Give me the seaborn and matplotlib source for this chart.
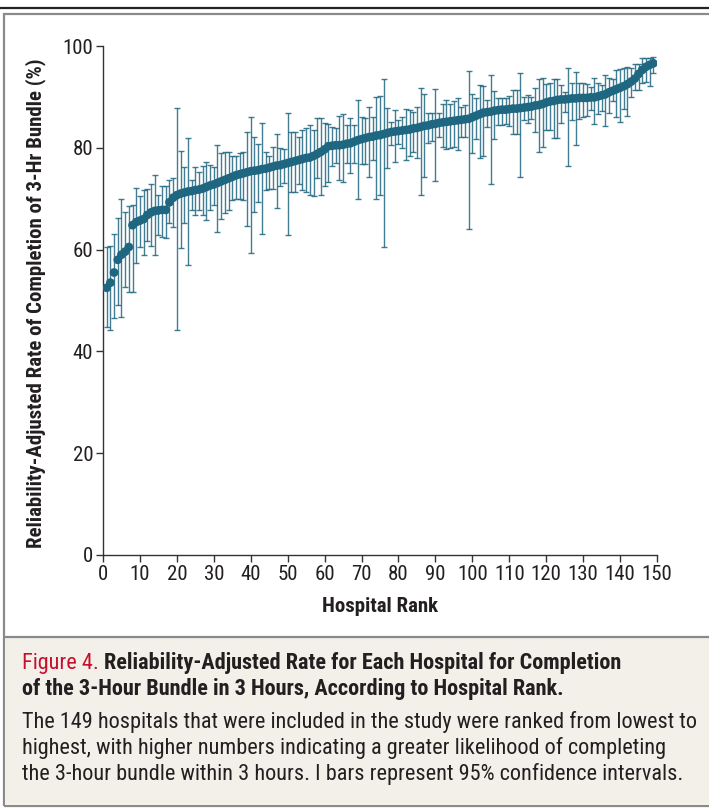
import matplotlib
matplotlib.use("Agg")
import matplotlib.pyplot as plt
import matplotlib.patches as mpatches
import matplotlib.lines as mlines
import numpy as np
import pandas as pd
import seaborn as sns
from matplotlib import font_manager

# ── Data ──────────────────────────────────────────────────────────────────────
rate = [
    52.5, 53.5, 55.5, 58.0, 59.0, 59.6, 60.5, 64.8, 65.4, 65.7,
    66.0, 66.8, 67.3, 67.6, 67.7, 67.8, 67.8, 69.3, 70.2, 70.7,
    71.0, 71.2, 71.4, 71.5, 71.7, 71.8, 72.0, 72.3, 72.6, 72.8,
    73.1, 73.4, 73.7, 74.0, 74.3, 74.6, 74.8, 75.0, 75.2, 75.4,
    75.5, 75.6, 75.8, 75.9, 76.1, 76.3, 76.5, 76.6, 76.8, 77.0,
    77.2, 77.4, 77.6, 77.8, 78.0, 78.1, 78.4, 78.8, 79.2, 79.7,
    80.3, 80.4, 80.5, 80.5, 80.6, 80.8, 80.9, 81.2, 81.5, 81.7,
    81.9, 82.1, 82.2, 82.4, 82.5, 82.7, 82.9, 83.1, 83.2, 83.3,
    83.4, 83.5, 83.6, 83.8, 83.9, 84.1, 84.3, 84.4, 84.6, 84.7,
    84.9, 85.0, 85.1, 85.2, 85.3, 85.4, 85.5, 85.6, 85.7, 86.0,
    86.3, 86.6, 86.9, 87.0, 87.1, 87.3, 87.4, 87.5, 87.5, 87.6,
    87.7, 87.7, 87.8, 87.9, 88.0, 88.1, 88.3, 88.4, 88.6, 88.9,
    89.1, 89.2, 89.4, 89.5, 89.5, 89.6, 89.7, 89.7, 89.8, 89.8,
    89.8, 89.9, 89.9, 90.1, 90.3, 90.5, 90.9, 91.2, 91.5, 91.8,
    92.1, 92.5, 93.0, 93.6, 94.5, 95.3, 95.9, 96.3, 96.6,
]
ci_low = [
    44.8, 44.3, 46.5, 49.1, 46.8, 52.7, 51.7, 51.7, 57.3, 60.6,
    58.9, 61.6, 60.7, 58.9, 62.8, 62.5, 62.3, 65.2, 64.5, 44.2,
    60.3, 65.2, 57.0, 67.8, 66.8, 67.8, 66.8, 65.8, 67.8, 68.8,
    63.5, 66.1, 67.1, 67.8, 69.7, 70.0, 70.0, 69.7, 64.6, 59.3,
    67.3, 69.4, 63.1, 71.7, 72.0, 72.0, 68.1, 72.4, 73.1, 62.9,
    71.4, 71.4, 72.9, 71.7, 71.4, 70.7, 70.5, 74.0, 70.7, 72.4,
    73.3, 76.4, 77.1, 73.7, 73.3, 77.0, 75.1, 77.0, 70.0, 76.8,
    76.8, 74.2, 77.6, 70.0, 70.7, 60.5, 76.0, 80.5, 77.3, 80.7,
    79.9, 77.6, 78.3, 79.2, 77.9, 70.7, 74.2, 80.9, 81.4, 73.5,
    82.1, 80.2, 79.7, 80.0, 80.2, 79.6, 82.1, 82.1, 64.0, 79.0,
    81.7, 77.9, 78.4, 84.0, 72.9, 81.8, 84.5, 84.5, 84.7, 84.3,
    82.7, 82.7, 74.3, 85.5, 84.8, 85.7, 83.2, 79.2, 80.2, 83.5,
    83.5, 81.9, 81.9, 84.9, 87.1, 76.4, 85.5, 80.5, 85.6, 86.0,
    86.2, 87.4, 84.7, 86.6, 87.3, 84.3, 86.8, 89.1, 86.0, 85.1,
    87.7, 86.2, 90.0, 91.4, 91.4, 92.7, 93.0, 92.1, 94.6,
]
ci_high = [
    60.5, 60.7, 63.0, 66.3, 70.0, 67.3, 68.6, 68.8, 72.2, 70.5,
    71.7, 72.0, 72.8, 74.7, 70.8, 72.4, 72.4, 73.7, 74.0, 87.8,
    79.4, 76.3, 82.0, 73.7, 76.3, 75.3, 76.4, 77.3, 76.6, 76.2,
    80.5, 79.0, 79.2, 79.2, 78.4, 78.4, 78.9, 79.2, 83.2, 86.1,
    82.1, 80.7, 84.8, 79.2, 78.3, 80.1, 82.8, 79.9, 79.7, 86.8,
    83.2, 83.2, 82.1, 83.5, 83.8, 84.5, 83.5, 85.8, 85.8, 84.9,
    84.6, 84.1, 83.8, 86.2, 86.6, 84.5, 85.8, 84.5, 89.3, 86.0,
    85.9, 88.0, 86.0, 90.0, 90.2, 93.5, 87.8, 85.1, 87.4, 85.5,
    86.1, 87.7, 87.5, 87.1, 88.1, 91.7, 90.6, 86.9, 86.8, 91.5,
    86.8, 88.6, 89.3, 88.6, 89.1, 89.7, 88.1, 88.4, 95.1, 90.6,
    89.7, 92.3, 92.1, 89.4, 94.4, 91.2, 89.7, 89.7, 89.7, 90.2,
    91.4, 91.4, 94.6, 89.9, 90.4, 89.9, 91.7, 93.6, 93.7, 92.5,
    92.8, 93.5, 93.5, 92.3, 91.0, 95.6, 92.7, 94.8, 92.8, 92.8,
    92.5, 92.0, 93.7, 92.7, 92.3, 94.3, 93.8, 93.5, 95.2, 95.4,
    95.6, 95.9, 95.6, 96.5, 96.5, 97.6, 97.6, 97.6, 97.9,
]
x_ticks = list(range(0, 151, 10))
y_ticks = [0, 20, 40, 60, 80, 100]

title_red = "Figure 4."
title_rest = [
    "Reliability-Adjusted Rate for Each Hospital for Completion",
    "of the 3-Hour Bundle in 3 Hours, According to Hospital Rank.",
]
caption = [
    "The 149 hospitals that were included in the study were ranked from lowest to",
    "highest, with higher numbers indicating a greater likelihood of completing",
    "the 3-hour bundle within 3 hours. I bars represent 95% confidence intervals.",
]

df = pd.DataFrame({
    "rank": np.arange(1, len(rate) + 1),
    "rate": rate,
    "low": ci_low,
    "high": ci_high,
})

# ── Style ─────────────────────────────────────────────────────────────────────
sns.set_style("ticks")
names = {f.name for f in font_manager.fontManager.ttflist}
candidates = ["Roboto Condensed", "Liberation Sans Narrow", "Open Sans Condensed",
              "Noto Sans Condensed", "DejaVu Sans Condensed"]
family = next((c for c in candidates if c in names), "Roboto")
plt.rcParams["font.family"] = [family, "DejaVu Sans"]

BLUE = "#1f6680"
TEXT = "#231f20"

fig = plt.figure(figsize=(7.09, 8.10), dpi=100)
W, H = 709, 810

def fx(px):
    return px / W

def fy(py):
    return 1 - py / H

# frame decorations
fig.add_artist(mlines.Line2D([0, 1], [fy(8), fy(8)], color="#222222", lw=1.6))
fig.add_artist(mpatches.Rectangle((fx(4), fy(806)), fx(720) - fx(4), fy(14) - fy(806),
                                  fill=False, edgecolor="#8a8a8a", lw=1.6))
fig.add_artist(mpatches.Rectangle((fx(5), fy(805)), 1, fy(637) - fy(805),
                                  facecolor="#f3f0ea", edgecolor="none"))
fig.add_artist(mlines.Line2D([fx(4), 1], [fy(637), fy(637)], color="#8a8a8a", lw=1.6))

# ── Plot ──────────────────────────────────────────────────────────────────────
ax = fig.add_axes([fx(103), fy(555), fx(657) - fx(103), fy(46) - fy(555)])
yerr = [df["rate"] - df["low"], df["high"] - df["rate"]]
ax.errorbar(df["rank"], df["rate"], yerr=yerr, fmt="none", ecolor=BLUE,
            elinewidth=1.0, capsize=2.3, capthick=1.0, alpha=0.85, zorder=2)
sns.scatterplot(data=df, x="rank", y="rate", ax=ax, color=BLUE, s=40,
                edgecolor="none", zorder=3, legend=False)

ax.set_xlim(0, 150)
ax.set_ylim(0, 100)
ax.set_xticks(x_ticks)
ax.set_yticks(y_ticks)
sns.despine(ax=ax)
for side in ("left", "bottom"):
    ax.spines[side].set_color("#333333")
    ax.spines[side].set_linewidth(1.0)
ax.tick_params(axis="both", direction="out", length=5, width=1.0,
               color="#333333", labelsize=15, labelcolor=TEXT, pad=2)
ax.set_xlabel("Hospital Rank", fontsize=15, fontweight="bold", color=TEXT)
ax.set_ylabel("Reliability-Adjusted Rate of Completion of 3-Hr Bundle (%)",
              fontsize=15, fontweight="bold", color=TEXT)
ax.xaxis.set_label_coords(0.5, -0.082)
ax.yaxis.set_label_coords(-0.102, 0.495)

# ── Caption ───────────────────────────────────────────────────────────────────
fs = 16 if family != "Roboto" else 13.5
fig.canvas.draw()
renderer = fig.canvas.get_renderer()
t_red = fig.text(fx(22), fy(663), title_red, color="#c8102e", fontsize=fs,
                 va="center", ha="left")
bb = t_red.get_window_extent(renderer=renderer)
fig.text(bb.x1 / fig.dpi / fig.get_figwidth() + fx(5), fy(663), title_rest[0],
         color=TEXT, fontsize=fs, fontweight="bold", va="center", ha="left")
fig.text(fx(22), fy(689), title_rest[1], color=TEXT, fontsize=fs,
         fontweight="bold", va="center", ha="left")
for i, line in enumerate(caption):
    fig.text(fx(22), fy(722 + 26 * i), line, color=TEXT, fontsize=fs,
             va="center", ha="left")

fig.savefig("out.png", dpi=100)
